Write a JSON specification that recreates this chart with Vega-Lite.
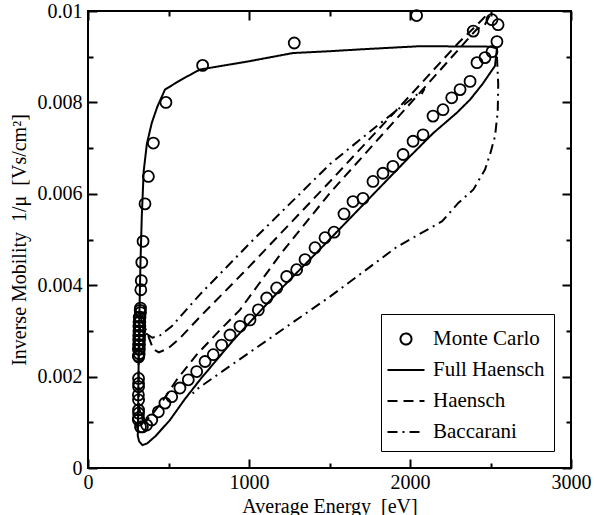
{
  "$schema": "https://vega.github.io/schema/vega-lite/v6.json",
  "width": 483,
  "height": 457,
  "autosize": "none",
  "padding": {"left": 88, "top": 11, "right": 23, "bottom": 47},
  "background": "white",
  "config": {
    "font": "Liberation Serif",
    "view": {"stroke": "black", "strokeWidth": 2},
    "axis": {"grid": false, "domain": false, "tickColor": "black", "tickWidth": 2, "labelColor": "black", "titleColor": "black", "labelFont": "Liberation Serif", "titleFont": "Liberation Serif", "labelFontSize": 20, "titleFontSize": 20, "titleFontWeight": "normal", "labelFlush": false, "labelOverlap": false},
    "legend": {
      "orient": "bottom-right",
      "offset": 17,
      "padding": 9,
      "strokeColor": "black",
      "fillColor": "white",
      "labelFont": "Liberation Serif",
      "labelFontSize": 21,
      "labelColor": "black",
      "symbolSize": 900,
      "symbolStrokeWidth": 2,
      "symbolStrokeColor": "black",
      "symbolFillColor": "transparent",
      "rowPadding": 5,
      "labelOffset": 11,
      "symbolOffset": 0,
      "labelLimit": 300
    }
  },
  "datasets": {
    "lines": [
      {"s": "Full Haensch", "g": "FH", "i": 0, "x": 310, "y": 0.0008},
      {"s": "Full Haensch", "g": "FH", "i": 1, "x": 312, "y": 0.0015},
      {"s": "Full Haensch", "g": "FH", "i": 2, "x": 315, "y": 0.0025},
      {"s": "Full Haensch", "g": "FH", "i": 3, "x": 320, "y": 0.0035},
      {"s": "Full Haensch", "g": "FH", "i": 4, "x": 326, "y": 0.0045},
      {"s": "Full Haensch", "g": "FH", "i": 5, "x": 334, "y": 0.0055},
      {"s": "Full Haensch", "g": "FH", "i": 6, "x": 346, "y": 0.0065},
      {"s": "Full Haensch", "g": "FH", "i": 7, "x": 366, "y": 0.0071},
      {"s": "Full Haensch", "g": "FH", "i": 8, "x": 396, "y": 0.00755},
      {"s": "Full Haensch", "g": "FH", "i": 9, "x": 430, "y": 0.0079},
      {"s": "Full Haensch", "g": "FH", "i": 10, "x": 478, "y": 0.00828},
      {"s": "Full Haensch", "g": "FH", "i": 11, "x": 580, "y": 0.0085},
      {"s": "Full Haensch", "g": "FH", "i": 12, "x": 696, "y": 0.00872},
      {"s": "Full Haensch", "g": "FH", "i": 13, "x": 1000, "y": 0.0089},
      {"s": "Full Haensch", "g": "FH", "i": 14, "x": 1273, "y": 0.00908},
      {"s": "Full Haensch", "g": "FH", "i": 15, "x": 1503, "y": 0.00912},
      {"s": "Full Haensch", "g": "FH", "i": 16, "x": 1689, "y": 0.00916},
      {"s": "Full Haensch", "g": "FH", "i": 17, "x": 2062, "y": 0.00923},
      {"s": "Full Haensch", "g": "FH", "i": 18, "x": 2497, "y": 0.00922},
      {"s": "Full Haensch", "g": "FH", "i": 19, "x": 2540, "y": 0.00918},
      {"s": "Full Haensch", "g": "FH", "i": 20, "x": 2528, "y": 0.0088},
      {"s": "Full Haensch", "g": "FH", "i": 21, "x": 2450, "y": 0.0084},
      {"s": "Full Haensch", "g": "FH", "i": 22, "x": 2373, "y": 0.00806},
      {"s": "Full Haensch", "g": "FH", "i": 23, "x": 2290, "y": 0.00777},
      {"s": "Full Haensch", "g": "FH", "i": 24, "x": 2145, "y": 0.00733},
      {"s": "Full Haensch", "g": "FH", "i": 25, "x": 2000, "y": 0.00682},
      {"s": "Full Haensch", "g": "FH", "i": 26, "x": 1500, "y": 0.005},
      {"s": "Full Haensch", "g": "FH", "i": 27, "x": 1193, "y": 0.0039},
      {"s": "Full Haensch", "g": "FH", "i": 28, "x": 903, "y": 0.0028},
      {"s": "Full Haensch", "g": "FH", "i": 29, "x": 700, "y": 0.00195},
      {"s": "Full Haensch", "g": "FH", "i": 30, "x": 600, "y": 0.0015},
      {"s": "Full Haensch", "g": "FH", "i": 31, "x": 509, "y": 0.00105},
      {"s": "Full Haensch", "g": "FH", "i": 32, "x": 420, "y": 0.0007},
      {"s": "Full Haensch", "g": "FH", "i": 33, "x": 368, "y": 0.00054},
      {"s": "Full Haensch", "g": "FH", "i": 34, "x": 338, "y": 0.0005},
      {"s": "Full Haensch", "g": "FH", "i": 35, "x": 318, "y": 0.00058},
      {"s": "Full Haensch", "g": "FH", "i": 36, "x": 309, "y": 0.0007},
      {"s": "Full Haensch", "g": "FH", "i": 37, "x": 310, "y": 0.0008},
      {"s": "Haensch", "g": "H", "i": 0, "x": 315, "y": 0.0025},
      {"s": "Haensch", "g": "H", "i": 1, "x": 320, "y": 0.003},
      {"s": "Haensch", "g": "H", "i": 2, "x": 333, "y": 0.0032},
      {"s": "Haensch", "g": "H", "i": 3, "x": 350, "y": 0.0031},
      {"s": "Haensch", "g": "H", "i": 4, "x": 368, "y": 0.00295},
      {"s": "Haensch", "g": "H", "i": 5, "x": 405, "y": 0.0026},
      {"s": "Haensch", "g": "H", "i": 6, "x": 440, "y": 0.00253},
      {"s": "Haensch", "g": "H", "i": 7, "x": 499, "y": 0.00262},
      {"s": "Haensch", "g": "H", "i": 8, "x": 571, "y": 0.00284},
      {"s": "Haensch", "g": "H", "i": 9, "x": 696, "y": 0.00331},
      {"s": "Haensch", "g": "H", "i": 10, "x": 1000, "y": 0.0044},
      {"s": "Haensch", "g": "H", "i": 11, "x": 1503, "y": 0.00627},
      {"s": "Haensch", "g": "H", "i": 12, "x": 2000, "y": 0.00815},
      {"s": "Haensch", "g": "H", "i": 13, "x": 2300, "y": 0.0093},
      {"s": "Haensch", "g": "H", "i": 14, "x": 2440, "y": 0.00978},
      {"s": "Haensch", "g": "H", "i": 15, "x": 2480, "y": 0.00993},
      {"s": "Haensch", "g": "H", "i": 16, "x": 2495, "y": 0.0099},
      {"s": "Haensch", "g": "H", "i": 17, "x": 2465, "y": 0.0097},
      {"s": "Haensch", "g": "H", "i": 18, "x": 2414, "y": 0.0096},
      {"s": "Haensch", "g": "H", "i": 19, "x": 2000, "y": 0.00797},
      {"s": "Haensch", "g": "H", "i": 20, "x": 1503, "y": 0.00602},
      {"s": "Haensch", "g": "H", "i": 21, "x": 1200, "y": 0.0047},
      {"s": "Haensch", "g": "H", "i": 22, "x": 944, "y": 0.00346},
      {"s": "Haensch", "g": "H", "i": 23, "x": 820, "y": 0.00302},
      {"s": "Haensch", "g": "H", "i": 24, "x": 675, "y": 0.00248},
      {"s": "Haensch", "g": "H", "i": 25, "x": 551, "y": 0.00193},
      {"s": "Haensch", "g": "H", "i": 26, "x": 468, "y": 0.00149},
      {"s": "Haensch", "g": "H", "i": 27, "x": 400, "y": 0.00118},
      {"s": "Haensch", "g": "H", "i": 28, "x": 355, "y": 0.00102},
      {"s": "Haensch", "g": "H", "i": 29, "x": 328, "y": 0.0011},
      {"s": "Haensch", "g": "H", "i": 30, "x": 316, "y": 0.0014},
      {"s": "Haensch", "g": "H", "i": 31, "x": 314, "y": 0.0018},
      {"s": "Haensch", "g": "H", "i": 32, "x": 315, "y": 0.0025},
      {"s": "Baccarani", "g": "B1", "i": 0, "x": 326, "y": 0.0034},
      {"s": "Baccarani", "g": "B1", "i": 1, "x": 337, "y": 0.0031},
      {"s": "Baccarani", "g": "B1", "i": 2, "x": 358, "y": 0.00295},
      {"s": "Baccarani", "g": "B1", "i": 3, "x": 400, "y": 0.00285},
      {"s": "Baccarani", "g": "B1", "i": 4, "x": 447, "y": 0.0029},
      {"s": "Baccarani", "g": "B1", "i": 5, "x": 520, "y": 0.0031},
      {"s": "Baccarani", "g": "B1", "i": 6, "x": 696, "y": 0.0038},
      {"s": "Baccarani", "g": "B1", "i": 7, "x": 1000, "y": 0.0049},
      {"s": "Baccarani", "g": "B1", "i": 8, "x": 1503, "y": 0.00665},
      {"s": "Baccarani", "g": "B1", "i": 9, "x": 1800, "y": 0.0075},
      {"s": "Baccarani", "g": "B1", "i": 10, "x": 2090, "y": 0.0083},
      {"s": "Baccarani", "g": "B1", "i": 11, "x": 2060, "y": 0.0081},
      {"s": "Baccarani", "g": "B2", "i": 0, "x": 2540, "y": 0.009},
      {"s": "Baccarani", "g": "B2", "i": 1, "x": 2548, "y": 0.0084},
      {"s": "Baccarani", "g": "B2", "i": 2, "x": 2545, "y": 0.0078},
      {"s": "Baccarani", "g": "B2", "i": 3, "x": 2528, "y": 0.00726},
      {"s": "Baccarani", "g": "B2", "i": 4, "x": 2500, "y": 0.0069},
      {"s": "Baccarani", "g": "B2", "i": 5, "x": 2466, "y": 0.00653},
      {"s": "Baccarani", "g": "B2", "i": 6, "x": 2393, "y": 0.00609},
      {"s": "Baccarani", "g": "B2", "i": 7, "x": 2300, "y": 0.0058},
      {"s": "Baccarani", "g": "B2", "i": 8, "x": 2200, "y": 0.0054},
      {"s": "Baccarani", "g": "B2", "i": 9, "x": 1919, "y": 0.00484},
      {"s": "Baccarani", "g": "B2", "i": 10, "x": 1503, "y": 0.00375},
      {"s": "Baccarani", "g": "B2", "i": 11, "x": 820, "y": 0.00208},
      {"s": "Baccarani", "g": "B2", "i": 12, "x": 675, "y": 0.00172},
      {"s": "Baccarani", "g": "B2", "i": 13, "x": 650, "y": 0.00163}
    ],
    "mc": [
      {"s": "Monte Carlo", "x": 326, "y": 0.0009},
      {"s": "Monte Carlo", "x": 313, "y": 0.00105},
      {"s": "Monte Carlo", "x": 314, "y": 0.0011},
      {"s": "Monte Carlo", "x": 314, "y": 0.0012},
      {"s": "Monte Carlo", "x": 314, "y": 0.00127},
      {"s": "Monte Carlo", "x": 314, "y": 0.00149},
      {"s": "Monte Carlo", "x": 313, "y": 0.0016},
      {"s": "Monte Carlo", "x": 314, "y": 0.00178},
      {"s": "Monte Carlo", "x": 314, "y": 0.00185},
      {"s": "Monte Carlo", "x": 314, "y": 0.00196},
      {"s": "Monte Carlo", "x": 315, "y": 0.00243},
      {"s": "Monte Carlo", "x": 313, "y": 0.00245},
      {"s": "Monte Carlo", "x": 318, "y": 0.0025},
      {"s": "Monte Carlo", "x": 313, "y": 0.0026},
      {"s": "Monte Carlo", "x": 319, "y": 0.0026},
      {"s": "Monte Carlo", "x": 320, "y": 0.0027},
      {"s": "Monte Carlo", "x": 314, "y": 0.0027},
      {"s": "Monte Carlo", "x": 315, "y": 0.0028},
      {"s": "Monte Carlo", "x": 320, "y": 0.0028},
      {"s": "Monte Carlo", "x": 321, "y": 0.0029},
      {"s": "Monte Carlo", "x": 315, "y": 0.0029},
      {"s": "Monte Carlo", "x": 316, "y": 0.003},
      {"s": "Monte Carlo", "x": 321, "y": 0.003},
      {"s": "Monte Carlo", "x": 322, "y": 0.0031},
      {"s": "Monte Carlo", "x": 316, "y": 0.0031},
      {"s": "Monte Carlo", "x": 317, "y": 0.0032},
      {"s": "Monte Carlo", "x": 322, "y": 0.0032},
      {"s": "Monte Carlo", "x": 323, "y": 0.0033},
      {"s": "Monte Carlo", "x": 318, "y": 0.0033},
      {"s": "Monte Carlo", "x": 326, "y": 0.0034},
      {"s": "Monte Carlo", "x": 324, "y": 0.00345},
      {"s": "Monte Carlo", "x": 326, "y": 0.0035},
      {"s": "Monte Carlo", "x": 328, "y": 0.0039},
      {"s": "Monte Carlo", "x": 331, "y": 0.0041},
      {"s": "Monte Carlo", "x": 334, "y": 0.0045},
      {"s": "Monte Carlo", "x": 342, "y": 0.00496},
      {"s": "Monte Carlo", "x": 354, "y": 0.00578},
      {"s": "Monte Carlo", "x": 375, "y": 0.00638},
      {"s": "Monte Carlo", "x": 406, "y": 0.00711},
      {"s": "Monte Carlo", "x": 484, "y": 0.008},
      {"s": "Monte Carlo", "x": 712, "y": 0.00881},
      {"s": "Monte Carlo", "x": 1281, "y": 0.0093},
      {"s": "Monte Carlo", "x": 2041, "y": 0.0099},
      {"s": "Monte Carlo", "x": 2393, "y": 0.00956},
      {"s": "Monte Carlo", "x": 2509, "y": 0.00981},
      {"s": "Monte Carlo", "x": 2547, "y": 0.0097},
      {"s": "Monte Carlo", "x": 2540, "y": 0.00933},
      {"s": "Monte Carlo", "x": 2509, "y": 0.00911},
      {"s": "Monte Carlo", "x": 2466, "y": 0.00898},
      {"s": "Monte Carlo", "x": 2416, "y": 0.00887},
      {"s": "Monte Carlo", "x": 2373, "y": 0.00846},
      {"s": "Monte Carlo", "x": 2311, "y": 0.00828},
      {"s": "Monte Carlo", "x": 2259, "y": 0.0081},
      {"s": "Monte Carlo", "x": 2205, "y": 0.00784},
      {"s": "Monte Carlo", "x": 2143, "y": 0.0077},
      {"s": "Monte Carlo", "x": 2081, "y": 0.00729},
      {"s": "Monte Carlo", "x": 2019, "y": 0.00715},
      {"s": "Monte Carlo", "x": 1957, "y": 0.00686},
      {"s": "Monte Carlo", "x": 1894, "y": 0.0066},
      {"s": "Monte Carlo", "x": 1832, "y": 0.00645},
      {"s": "Monte Carlo", "x": 1770, "y": 0.00627},
      {"s": "Monte Carlo", "x": 1708, "y": 0.0059},
      {"s": "Monte Carlo", "x": 1646, "y": 0.00583},
      {"s": "Monte Carlo", "x": 1590, "y": 0.00556},
      {"s": "Monte Carlo", "x": 1528, "y": 0.00516},
      {"s": "Monte Carlo", "x": 1472, "y": 0.00504},
      {"s": "Monte Carlo", "x": 1410, "y": 0.00482},
      {"s": "Monte Carlo", "x": 1348, "y": 0.00456},
      {"s": "Monte Carlo", "x": 1296, "y": 0.00434},
      {"s": "Monte Carlo", "x": 1234, "y": 0.00419},
      {"s": "Monte Carlo", "x": 1172, "y": 0.00394},
      {"s": "Monte Carlo", "x": 1110, "y": 0.00372},
      {"s": "Monte Carlo", "x": 1058, "y": 0.00346},
      {"s": "Monte Carlo", "x": 1006, "y": 0.00324},
      {"s": "Monte Carlo", "x": 944, "y": 0.0031},
      {"s": "Monte Carlo", "x": 882, "y": 0.00291},
      {"s": "Monte Carlo", "x": 830, "y": 0.00269},
      {"s": "Monte Carlo", "x": 778, "y": 0.00248},
      {"s": "Monte Carlo", "x": 727, "y": 0.00233},
      {"s": "Monte Carlo", "x": 675, "y": 0.00211},
      {"s": "Monte Carlo", "x": 623, "y": 0.00193},
      {"s": "Monte Carlo", "x": 571, "y": 0.00175},
      {"s": "Monte Carlo", "x": 520, "y": 0.00156},
      {"s": "Monte Carlo", "x": 478, "y": 0.00142},
      {"s": "Monte Carlo", "x": 437, "y": 0.00123},
      {"s": "Monte Carlo", "x": 396, "y": 0.00105},
      {"s": "Monte Carlo", "x": 364, "y": 0.00094},
      {"s": "Monte Carlo", "x": 338, "y": 0.0009}
    ]
  },
  "resolve": {"axis": {"x": "independent", "y": "independent"}},
  "layer": [
    {
      "data": {"name": "lines"},
      "mark": {"type": "line", "color": "black", "strokeWidth": 2},
      "encoding": {
        "x": {"field": "x", "type": "quantitative", "scale": {"domain": [0, 3000], "nice": false, "zero": false},
          "axis": {"orient": "bottom", "values": [0, 1000, 2000, 3000], "format": "d", "tickSize": -9, "labelPadding": 13, "title": "Average Energy\u00a0\u00a0[eV]", "titlePadding": 4}},
        "y": {"field": "y", "type": "quantitative", "scale": {"domain": [0, 0.01], "nice": false, "zero": false},
          "axis": {"orient": "left", "values": [0, 0.002, 0.004, 0.006, 0.008, 0.01], "format": ".3~f", "tickSize": -9, "labelPadding": 15, "title": "Inverse Mobility\u00a0\u00a01/μ\u00a0\u00a0[Vs/cm²]", "titlePadding": 8}},
        "strokeDash": {"field": "s", "type": "nominal",
          "scale": {"domain": ["Monte Carlo", "Full Haensch", "Haensch", "Baccarani"], "range": [[1, 0], [1, 0], [10, 6], [10, 5, 2, 5]]},
          "legend": {"title": null}},
        "detail": {"field": "g"},
        "order": {"field": "i", "type": "quantitative"}
      }
    },
    {
      "data": {"name": "mc"},
      "mark": {"type": "point", "filled": false, "stroke": "black", "strokeWidth": 1.8, "size": 900, "opacity": 1},
      "encoding": {
        "x": {"field": "x", "type": "quantitative", "scale": {"domain": [0, 3000], "nice": false, "zero": false},
          "axis": {"orient": "top", "values": [0, 1000, 2000, 3000], "tickSize": -9, "labels": false, "title": null}},
        "y": {"field": "y", "type": "quantitative", "scale": {"domain": [0, 0.01], "nice": false, "zero": false},
          "axis": {"orient": "right", "values": [0, 0.002, 0.004, 0.006, 0.008, 0.01], "tickSize": -9, "labels": false, "title": null}},
        "shape": {"field": "s", "type": "nominal",
          "scale": {"domain": ["Monte Carlo", "Full Haensch", "Haensch", "Baccarani"],
            "range": ["M -0.367 0 A 0.367 0.367 0 1 0 0.367 0 A 0.367 0.367 0 1 0 -0.367 0 Z", "M -1.233 0 L 1.233 0", "M -1.233 0 L 1.233 0", "M -1.233 0 L 1.233 0"]},
          "legend": {"title": null}}
      }
    },
    {
      "data": {"name": "mc"},
      "mark": {"type": "point", "opacity": 0},
      "encoding": {
        "x": {"field": "x", "type": "quantitative", "scale": {"domain": [0, 3000], "nice": false, "zero": false},
          "axis": {"orient": "bottom", "values": [500, 1500, 2500], "tickSize": -5, "labels": false, "title": null}},
        "y": {"field": "y", "type": "quantitative", "scale": {"domain": [0, 0.01], "nice": false, "zero": false},
          "axis": {"orient": "left", "values": [0.001, 0.003, 0.005, 0.007, 0.009], "tickSize": -5, "labels": false, "title": null}}
      }
    },
    {
      "data": {"name": "mc"},
      "mark": {"type": "point", "opacity": 0},
      "encoding": {
        "x": {"field": "x", "type": "quantitative", "scale": {"domain": [0, 3000], "nice": false, "zero": false},
          "axis": {"orient": "top", "values": [500, 1500, 2500], "tickSize": -5, "labels": false, "title": null}},
        "y": {"field": "y", "type": "quantitative", "scale": {"domain": [0, 0.01], "nice": false, "zero": false},
          "axis": {"orient": "right", "values": [0.001, 0.003, 0.005, 0.007, 0.009], "tickSize": -5, "labels": false, "title": null}}
      }
    }
  ]
}
